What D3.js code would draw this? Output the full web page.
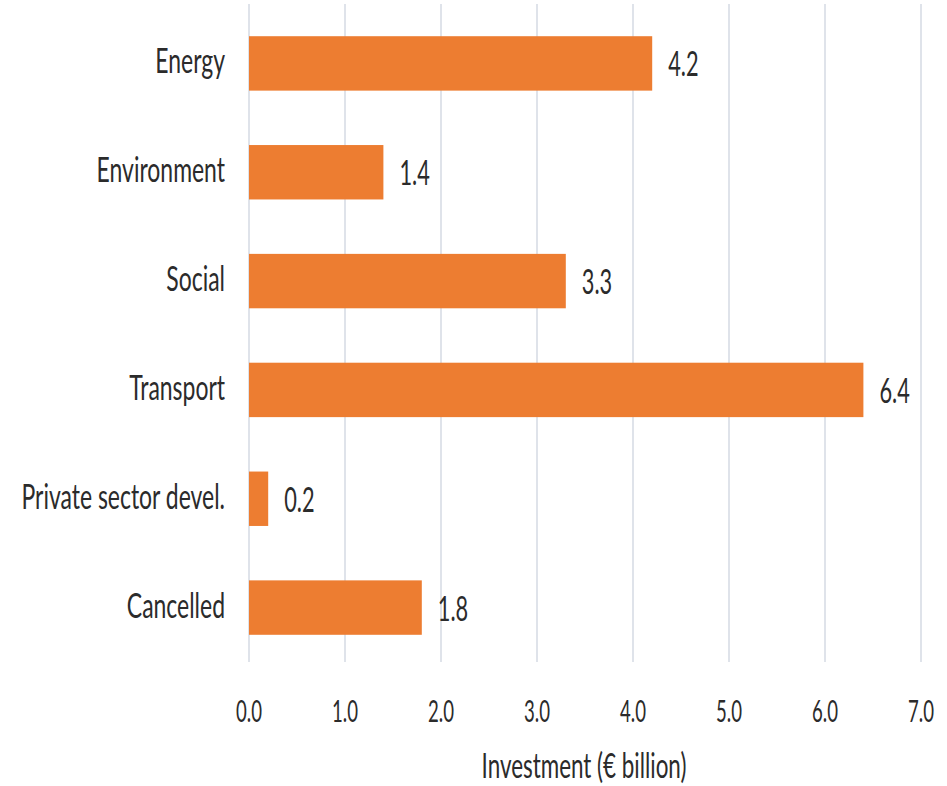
<!DOCTYPE html>
<html><head><meta charset="utf-8">
<script src="https://cdn.jsdelivr.net/npm/d3@7"></script>
<style>body{margin:0;background:#fff}svg{display:block}text{font-family:Lato,"Open Sans",sans-serif;fill:#2b2b2b;font-weight:400}</style>
</head><body>
<svg id="c" width="947" height="786"></svg>
<script>
const categories = ["Energy","Environment","Social","Transport","Private sector devel.","Cancelled"];
const values = [4.2,1.4,3.3,6.4,0.2,1.8];
const tickValues = [0,1,2,3,4,5,6,7];
const axisTitle = "Investment (\u20ac billion)";

const svg = d3.select("#c");
const x = d3.scaleLinear().domain([0,7]).range([249,921]);
const y = d3.scaleBand().domain(categories).range([9,662]).paddingInner(0.5).paddingOuter(0.25);

function txt(g, px, py, s, anchor, fs, sx){
  return g.append("text").attr("transform",`translate(${px},${py}) scale(${sx},1)`)
    .attr("text-anchor",anchor)
    .style("font-size",fs+"px").text(s);
}

// gridlines
svg.append("g").selectAll("line").data(tickValues).join("line")
  .attr("x1",d=>x(d)).attr("x2",d=>x(d)).attr("y1",4).attr("y2",662)
  .attr("stroke","#dfe3ea").attr("stroke-width",2);

// bars
svg.append("g").selectAll("rect").data(values).join("rect")
  .attr("x",x(0)).attr("y",(d,i)=>y(categories[i]))
  .attr("width",d=>x(d)-x(0)).attr("height",y.bandwidth())
  .attr("fill","#ED7D31");

const g = svg.append("g");
categories.forEach((c,i)=>{
  const cy = y(c)+y.bandwidth()/2;
  txt(g, 225, cy+10, c, "end", 34, 0.675);
  txt(g, x(values[i])+16, cy+13, values[i].toFixed(1), "start", 34, 0.64);
});
tickValues.forEach(t=>txt(g, x(t), 722, t.toFixed(1), "middle", 31, 0.6));
txt(g, x(3.5)-1, 778, axisTitle, "middle", 35, 0.64);
</script>
</body></html>
